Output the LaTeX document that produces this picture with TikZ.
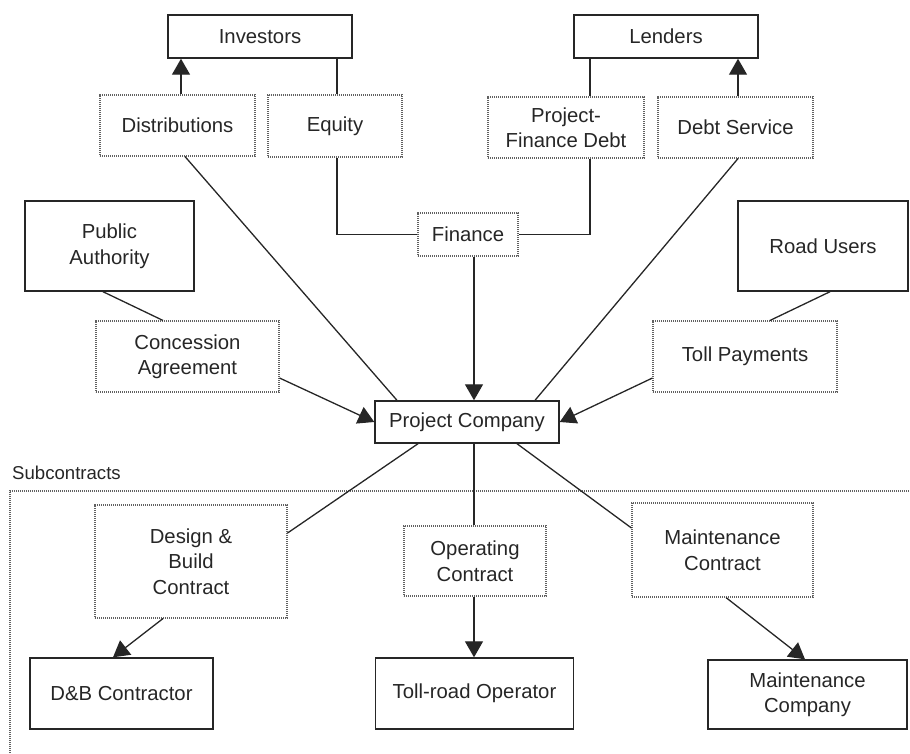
\documentclass[tikz,border=0pt]{standalone}
\usepackage{fontspec}
\setmainfont{Liberation Sans}
\usetikzlibrary{arrows.meta}
\begin{document}
\begin{tikzpicture}[x=1pt,y=-1pt,
  txt/.style={text=black!85, font=\fontsize{20.3}{25.5}\selectfont},
  box/.style={txt, draw=black!85, line width=1.4pt, inner sep=0pt, align=center},
  dbox/.style={txt, draw=black!62, line width=1.1pt, dash pattern=on 1.1pt off 0.9pt, inner sep=0pt, align=center},
  sz/.style 2 args={minimum width=#1pt, minimum height=#2pt},
  conn/.style={line width=1.3pt, draw=black!85},
  arr/.style={conn, -{Triangle[length=16pt,width=18pt]}},
  frame/.style={draw=black!62, line width=1.1pt, dash pattern=on 1.1pt off 0.9pt}]
\useasboundingbox (0,0) rectangle (910,753);

% top row
\node[box, sz={184}{43}] (inv) at (260,36.5) {Investors};
\node[box, sz={184}{43}] (len) at (666,36.5) {Lenders};
\node[dbox, sz={155}{61}] (dist) at (177.5,125.5) {Distributions};
\node[dbox, sz={134}{62}] (eq) at (335,126) {Equity};
\node[dbox, sz={156}{61}] (pfd) at (566,127.5) {Project-\\Finance Debt};
\node[dbox, sz={155}{61}] (ds) at (735.5,127.5) {Debt Service};
\node[dbox, sz={100}{43}] (fin) at (468,234.5) {Finance};

% middle row
\node[box, sz={169}{90}] (pa) at (109.5,246) {Public\\Authority};
\node[dbox, sz={183}{71}] (ca) at (187.5,356.5) {Concession\\Agreement};
\node[box, sz={170}{90}] (ru) at (823,246) {Road Users};
\node[dbox, sz={184}{71}] (tp) at (745,356.5) {Toll Payments};
\node[box, sz={184}{42}] (pc) at (467,422) {Project Company};

% subcontracts
\node[txt, font=\fontsize{18.6}{22}\selectfont, anchor=west, inner sep=0pt] (sub) at (12,473) {Subcontracts};
\coordinate (f1) at (10,753);
\coordinate (f2) at (10,491);
\coordinate (f3) at (910,491);
\draw[frame] (f1) -- (f2) -- (f3);

\node[dbox, sz={192}{113}] (dbc) at (191,561.5) {Design \&\\Build\\Contract};
\node[dbox, sz={142}{70}] (oc) at (475,561) {Operating\\Contract};
\node[dbox, sz={181}{94}] (mc) at (722.5,550) {Maintenance\\Contract};
\node[box, sz={183}{71}] (dbk) at (121.5,693.5) {D\&B Contractor};
\node[box, sz={198}{71}] (tro) at (474.5,693.5) {Toll-road Operator};
\node[box, sz={199}{69}] (mco) at (807.5,694.5) {Maintenance\\Company};

% finance connectors
\draw[arr] ([xshift=3.5pt]dist.north) -- ([xshift=3.5pt]dist.north |- inv.south);
\draw[conn] ([xshift=2pt]eq.north) -- ([xshift=2pt]eq.north |- inv.south);
\draw[conn] ([xshift=2pt]eq.south) |- (fin.west);
\draw[conn] ([xshift=24pt]pfd.north) -- ([xshift=24pt]pfd.north |- len.south);
\draw[conn] ([xshift=24pt]pfd.south) |- (fin.east);
\draw[arr] ([xshift=2.5pt]ds.north) -- ([xshift=2.5pt]ds.north |- len.south);
\draw[arr] ([xshift=6pt]fin.south) -- ([xshift=6pt]fin.south |- pc.north);
\draw[conn] ([xshift=7.5pt]dist.south) -- ([xshift=-70pt]pc.north);
\draw[conn] ([xshift=2.5pt]ds.south) -- ([xshift=68pt]pc.north);

% authority / users
\draw[conn] ([xshift=-6.5pt]pa.south) -- ([xshift=-24.5pt]ca.north);
\draw[arr] ([yshift=-21.5pt]ca.east) -- (pc.west);
\draw[conn] ([xshift=7pt]ru.south) -- ([xshift=25pt]tp.north);
\draw[arr] ([yshift=-21.5pt]tp.west) -- (pc.east);

% subcontracts
\draw[conn] ([xshift=-49pt]pc.south) -- ([yshift=28.5pt]dbc.east);
\draw[conn] ([xshift=7pt]pc.south) -- ([xshift=7pt]pc.south |- oc.north);
\draw[conn] ([xshift=50pt]pc.south) -- ([yshift=22pt]mc.west);
\draw[arr] ([xshift=-28pt]dbc.south) -- ([xshift=-8.5pt]dbk.north);
\draw[arr] ([xshift=-1pt]oc.south) -- ([xshift=-1pt]oc.south |- tro.north);
\draw[arr] ([xshift=3.5pt]mc.south) -- ([xshift=-2.5pt]mco.north);
\end{tikzpicture}
\end{document}
